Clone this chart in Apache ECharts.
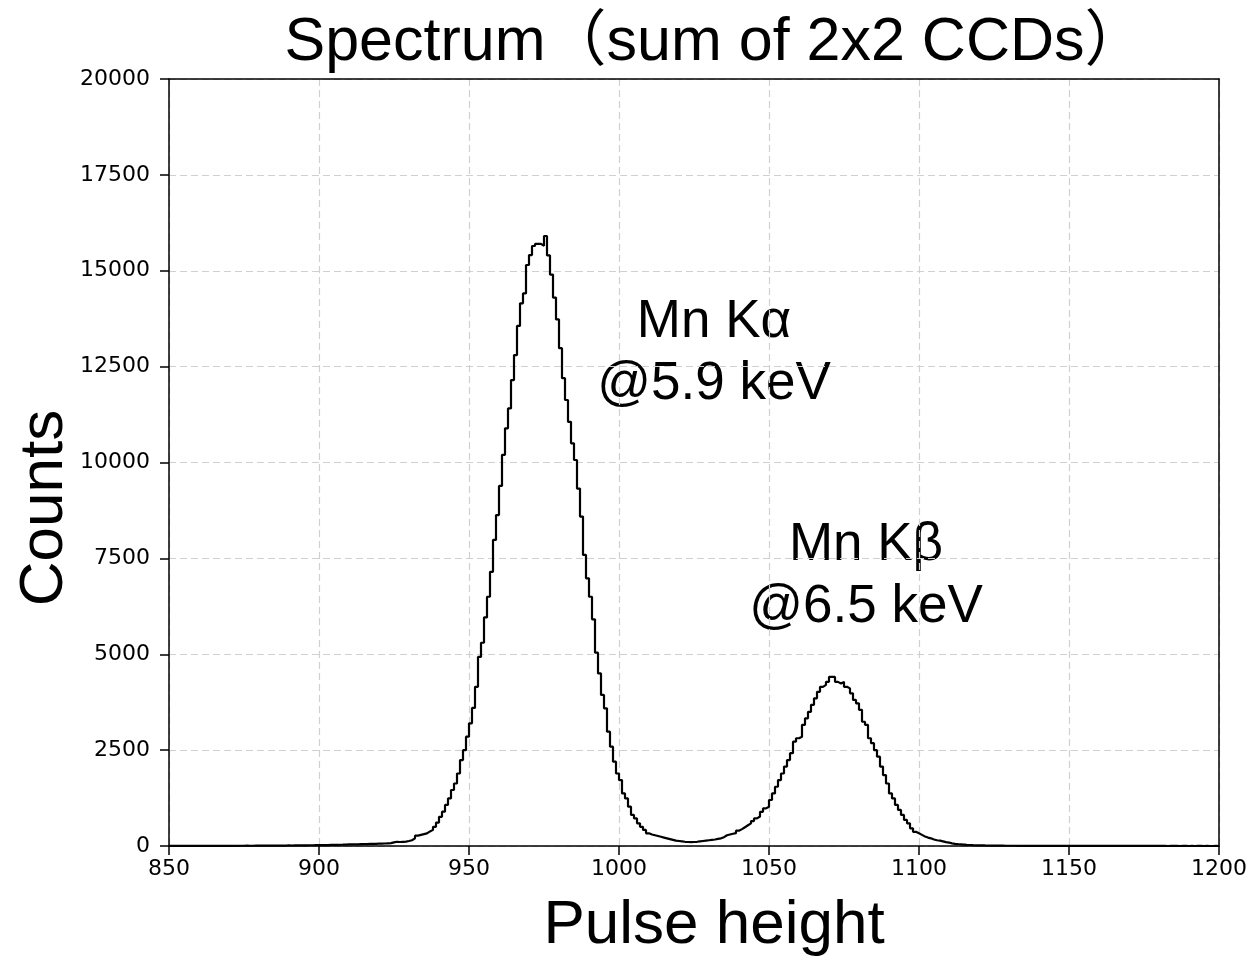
<!DOCTYPE html>
<html>
<head>
<meta charset="utf-8">
<script src="https://cdn.jsdelivr.net/npm/echarts@6/dist/echarts.min.js"></script>
<style>
html,body{margin:0;padding:0;background:#fff;}
#chart{width:1252px;height:960px;}
</style>
</head>
<body>
<div id="chart"></div>
<script>
// ---- data ----
const titleText = 'Spectrum（sum of 2x2 CCDs）';
const xLabel = 'Pulse height';
const yLabel = 'Counts';
const binStart = 850;
const binWidth = 1;
// counts per bin, bins 850..1199 (width 1)
const counts = [
  3,2,4,3,2,3,5,3,4,2,
  3,4,3,5,4,3,4,5,4,6,
  5,6,5,7,6,8,7,6,8,9,
  8,10,9,11,10,12,11,13,12,14,
  13,15,14,16,18,17,19,20,22,21,
  24,26,25,28,30,29,33,35,38,40,
  42,45,44,48,52,50,55,58,57,60,
  60,65,70,75,95,110,105,110,115,130,
  150,200,270,290,310,330,380,420,500,610,
  760,895,1070,1240,1460,1630,1890,2240,2500,2850,
  3200,3600,4150,4930,5300,5960,6500,7150,7980,8630,
  9390,10200,10890,11410,12150,12800,13560,14150,14410,15150,
  15410,15645,15700,15700,15650,15906,15400,14900,14300,13730,
  12980,12200,11630,11060,10500,10065,9320,8590,7590,6980,
  6500,5910,5040,4500,3940,3590,2980,2590,2200,1890,
  1720,1370,1240,1025,810,720,590,500,420,330,
  300,280,260,240,220,200,180,160,140,130,
  120,110,105,100,105,110,120,130,140,150,
  160,170,185,200,230,280,300,320,335,400,
  440,490,540,590,650,720,770,890,980,1025,
  1200,1370,1545,1720,1890,2070,2240,2420,2720,2810,
  2850,3160,3330,3500,3680,3850,4020,4150,4200,4280,
  4410,4410,4280,4240,4280,4150,4110,3980,3810,3720,
  3550,3240,3160,2810,2680,2500,2330,2070,1850,1630,
  1370,1240,1070,940,810,680,590,460,370,330,
  290,250,220,200,170,150,140,120,100,90,
  70,55,48,42,36,30,26,22,20,18,
  16,14,13,12,10,9,9,8,7,7,
  6,6,5,6,5,4,5,4,4,3,
  4,3,3,4,3,2,3,3,2,3,
  2,3,2,2,3,2,2,1,2,2,
  2,1,2,2,1,2,1,1,2,1,
  1,2,1,1,1,2,1,1,1,1,
  1,1,0,1,1,1,0,1,1,0,
  1,0,1,1,0,1,0,0,1,0
];
const annotationLines = [
  ['Mn Kα', '@5.9 keV'],
  ['Mn Kβ', '@6.5 keV']
];
const xTicks = {min: 850, max: 1200, interval: 50};
const yTicks = {min: 0, max: 20000, interval: 2500};

// ---- build ----
const stepData = counts.map((c, i) => [binStart + i * binWidth, c]);
stepData.push([binStart + counts.length * binWidth, counts[counts.length - 1]]);

const chart = echarts.init(document.getElementById('chart'), null, {renderer: 'canvas'});
const tickFont = 'DejaVu Sans';
const textFont = '"Liberation Sans", "Noto Sans CJK JP", Arial, sans-serif';
const plain = v => String(v);
const gridLine = {show: true, lineStyle: {color: '#d0d0d0', type: [7, 4], width: 1.2}};
const blackLine = {show: true, onZero: false, lineStyle: {color: '#000', width: 1.5}};

const annCenters = [[714, 322, 384], [866, 545, 607]];
const annGraphics = [];
annotationLines.forEach((lines, k) => {
  const c = annCenters[k];
  annGraphics.push({type: 'text', x: c[0], y: c[1], style: {text: lines[0], font: '53px ' + textFont, fill: '#000', textAlign: 'center', textVerticalAlign: 'middle'}});
  annGraphics.push({type: 'text', x: c[0], y: c[2], style: {text: lines[1], font: '53px ' + textFont, fill: '#000', textAlign: 'center', textVerticalAlign: 'middle'}});
});

const option = {
  backgroundColor: '#ffffff',
  animation: false,
  grid: {left: 169, right: 33, top: 79, bottom: 114, show: false},
  xAxis: [{
    type: 'value', min: xTicks.min, max: xTicks.max, interval: xTicks.interval,
    axisLine: blackLine,
    axisTick: {show: true, inside: false, length: 9, lineStyle: {color: '#000', width: 1.5}},
    axisLabel: {color: '#000', fontFamily: tickFont, fontSize: 22, margin: 12, formatter: plain},
    splitLine: gridLine
  }, {
    type: 'value', position: 'top', min: xTicks.min, max: xTicks.max, interval: xTicks.interval,
    axisLine: blackLine, axisTick: {show: false}, axisLabel: {show: false}, splitLine: {show: false}
  }],
  yAxis: [{
    type: 'value', min: yTicks.min, max: yTicks.max, interval: yTicks.interval,
    axisLine: blackLine,
    axisTick: {show: true, inside: false, length: 9, lineStyle: {color: '#000', width: 1.5}},
    axisLabel: {color: '#000', fontFamily: tickFont, fontSize: 22, margin: 19, formatter: plain},
    splitLine: gridLine
  }, {
    type: 'value', position: 'right', min: yTicks.min, max: yTicks.max, interval: yTicks.interval,
    axisLine: blackLine, axisTick: {show: false}, axisLabel: {show: false}, splitLine: {show: false}
  }],
  series: [{
    type: 'line', step: 'end', data: stepData, showSymbol: false, symbol: 'none',
    xAxisIndex: 0, yAxisIndex: 0,
    lineStyle: {color: '#000', width: 2.2}, z: 5, silent: true
  }],
  graphic: [
    {type: 'text', x: 715, y: 43, style: {text: titleText, font: '61px ' + textFont, fill: '#000', textAlign: 'center', textVerticalAlign: 'middle'}},
    {type: 'text', x: 714, y: 926, style: {text: xLabel, font: '62px ' + textFont, fill: '#000', textAlign: 'center', textVerticalAlign: 'middle'}},
    {type: 'text', x: 45, y: 508, rotation: Math.PI / 2, style: {text: yLabel, font: '62px ' + textFont, fill: '#000', textAlign: 'center', textVerticalAlign: 'middle'}}
  ].concat(annGraphics)
};
chart.setOption(option);
</script>
</body>
</html>
